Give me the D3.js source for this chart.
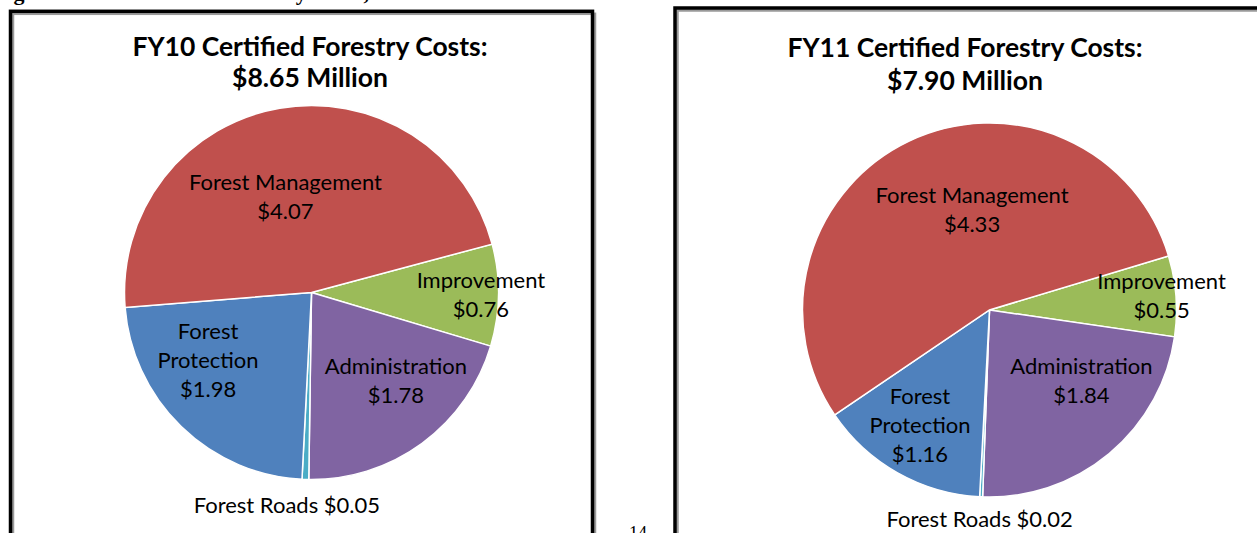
<!DOCTYPE html>
<html>
<head>
<meta charset="utf-8">
<script src="https://cdn.jsdelivr.net/npm/d3@7"></script>
<style>
  html, body { margin: 0; padding: 0; background: #fff; overflow: hidden; }
  svg { display: block; }
</style>
</head>
<body>
<svg id="svg"></svg>
<script>
// slice order as Excel draws them, clockwise from the first slice
const categories = ['Improvement', 'Administration', 'Forest Roads', 'Forest Protection', 'Forest Management'];
const fy10Values = [0.76, 1.78, 0.05, 1.98, 4.07];
const fy11Values = [0.55, 1.84, 0.02, 1.16, 4.33];
const fy10Title = ['FY10 Certified Forestry Costs:', '$8.65 Million'];
const fy11Title = ['FY11 Certified Forestry Costs:', '$7.90 Million'];
const labelLines = [['Improvement'], ['Administration'], ['Forest Roads'], ['Forest', 'Protection'], ['Forest Management']];
const inlineValue = [false, false, true, false, false];
const sliceColors = ['#9BBB59', '#8064A2', '#4BACC6', '#4F81BD', '#C0504D'];

const width = 1257, height = 533;
const font = 'Lato, "Open Sans", sans-serif';

// layout of the two panels
const panels = [
  {values: fy10Values, title: fy10Title, cx: 311.5, cy: 292.5, r: 187, start: 75,
   titleX: 310, titleY: [56, 87],
   labelPolar: [[90.8, 0.906], [136.5, 0.656], [186.6, 1.147], [236.7, 0.662], [344.8, 0.532]],
   box: {x: 10.5, y: 11.3, w: 582, h: 560}},
  {values: fy11Values, title: fy11Title, cx: 989.5, cy: 310, r: 187, start: 73.2,
   titleX: 965, titleY: [57, 90],
   labelPolar: [[85.4, 0.923], [127.5, 0.62], [182.7, 1.119], [211, 0.722], [350.1, 0.544]],
   box: {x: 675, y: 8, w: 620, h: 560}}
];

const svg = d3.select('#svg')
  .attr('width', width)
  .attr('height', height)
  .attr('viewBox', `0 0 ${width} ${height}`);

// page text cut off by the screenshot (only descenders show)
svg.append('text')
  .attr('x', -6)
  .attr('y', 0)
  .attr('font-family', '"Liberation Serif", "Times New Roman", serif')
  .attr('font-weight', 'bold')
  .attr('font-size', 22)
  .text('Figure 5. Total Certified Forestry Costs, FY10 and FY11');

svg.append('text')
  .attr('x', 638)
  .attr('y', 539)
  .attr('text-anchor', 'middle')
  .attr('font-family', '"Liberation Serif", "Times New Roman", serif')
  .attr('font-size', 18)
  .text('14');

const fmt = d3.format('.2f');
const rad = d => d * Math.PI / 180;

panels.forEach(p => {
  // framed box with grey shadow line
  svg.append('rect')
    .attr('x', p.box.x + 2.5).attr('y', p.box.y + 2.5)
    .attr('width', p.box.w).attr('height', p.box.h)
    .attr('fill', 'none').attr('stroke', '#9a9a9a').attr('stroke-width', 2.5);
  svg.append('rect')
    .attr('x', p.box.x).attr('y', p.box.y)
    .attr('width', p.box.w).attr('height', p.box.h)
    .attr('fill', 'none').attr('stroke', '#000').attr('stroke-width', 3.5);

  svg.append('g')
    .selectAll('text')
    .data(p.title)
    .enter()
    .append('text')
    .attr('x', p.titleX)
    .attr('y', (d, i) => p.titleY[i])
    .attr('text-anchor', 'middle')
    .attr('font-family', font)
    .attr('font-weight', 'bold')
    .attr('font-size', 27)
    .attr('fill', '#000')
    .attr('textLength', (d, i) => i === 0 ? 355 : 156)
    .attr('lengthAdjust', 'spacingAndGlyphs')
    .text(d => d);

  const data = categories.map((c, i) => ({cat: c, value: p.values[i], idx: i}));

  const pie = d3.pie()
    .sort(null)
    .value(d => d.value)
    .startAngle(rad(p.start))
    .endAngle(rad(p.start) + 2 * Math.PI);

  const arc = d3.arc().innerRadius(0).outerRadius(p.r);

  const g = svg.append('g')
    .attr('transform', `translate(${p.cx},${p.cy})`);

  g.selectAll('.slice')
    .data(pie(data))
    .enter()
    .append('path')
    .attr('class', 'slice')
    .attr('d', arc)
    .attr('fill', d => sliceColors[d.data.idx])
    .attr('stroke', '#fff')
    .attr('stroke-width', 1.5);

  const lineH = 29;
  const labels = g.selectAll('.lbl')
    .data(data)
    .enter()
    .append('text')
    .attr('class', 'lbl')
    .attr('text-anchor', 'middle')
    .attr('font-family', font)
    .attr('font-size', 22)
    .attr('fill', '#000');

  labels.each(function (d, i) {
    const [ang, frac] = p.labelPolar[i];
    const x = Math.sin(rad(ang)) * frac * p.r;
    const y = -Math.cos(rad(ang)) * frac * p.r;
    let lines;
    if (inlineValue[i]) {
      lines = [labelLines[i].join(' ') + ' $' + fmt(d.value)];
    } else {
      lines = labelLines[i].concat(['$' + fmt(d.value)]);
    }
    const y0 = y - (lines.length - 1) * lineH / 2 + 7.5;
    d3.select(this).selectAll('tspan')
      .data(lines)
      .enter()
      .append('tspan')
      .attr('x', x)
      .attr('y', (t, k) => y0 + k * lineH)
      .text(t => t);
  });
});
</script>
</body>
</html>
